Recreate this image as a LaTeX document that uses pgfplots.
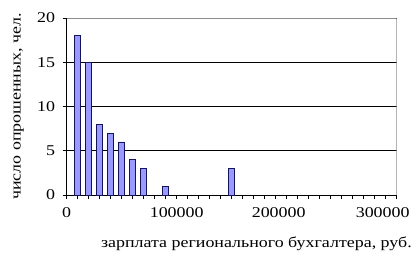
\documentclass[border=0pt]{standalone}
\usepackage{fontspec}
\setmainfont{Liberation Serif}[FakeStretch=1.2]
\usepackage{pgfplots}
\pgfplotsset{compat=1.18}
\definecolor{barfill}{RGB}{153,153,255}
\definecolor{framegray}{RGB}{140,140,140}
\definecolor{baredge}{RGB}{20,20,90}
\begin{document}
\begin{tikzpicture}
\path[use as bounding box] (-66.7bp,-59bp) rectangle (346.3bp,195bp);
\begin{axis}[
  at={(0,0)}, anchor=south west,
  scale only axis, width=330bp, height=177bp,
  xmin=0, xmax=300000, ymin=0, ymax=20,
  scaled x ticks=false,
  axis x line*=bottom, axis y line*=left,
  axis line style={black, line width=0.8pt, -},
  xtick={0,100000,200000,300000},
  xticklabels={0,100000,\hspace*{-16bp}200000,\hspace*{-28bp}300000},
  minor x tick num=9,
  ytick={0,5,10,15,20},
  yticklabels={0,5,10,15,\raisebox{-5bp}{20}},
  xticklabel style={yshift=-5bp},
  yticklabel style={xshift=-4bp},
  tick align=outside,
  major tick length=4bp, minor tick length=4bp,
  tick style={black, line width=0.8pt},
  ymajorgrids, grid style={black, line width=0.8pt},
  font=\fontsize{15}{17}\selectfont,
  xlabel={зарплата регионального бухгалтера, руб.},
  ylabel={число опрошенных, чел.},
  xlabel style={at={(axis description cs:0.575,-0.2994)}, anchor=base},
  ylabel style={at={(axis description cs:-0.1455,0.5)}, anchor=center},
]
\addplot[ybar, bar width=6bp, fill=barfill, draw=baredge, line width=0.7pt]
  coordinates {(10000,18) (20000,15) (30000,8) (40000,7) (50000,6) (60000,4) (70000,3) (90000,1) (150000,3)};
\draw[framegray, line width=0.8pt] (rel axis cs:0,1) -- (rel axis cs:1,1) -- (rel axis cs:1,0);
\end{axis}
\end{tikzpicture}
\end{document}
